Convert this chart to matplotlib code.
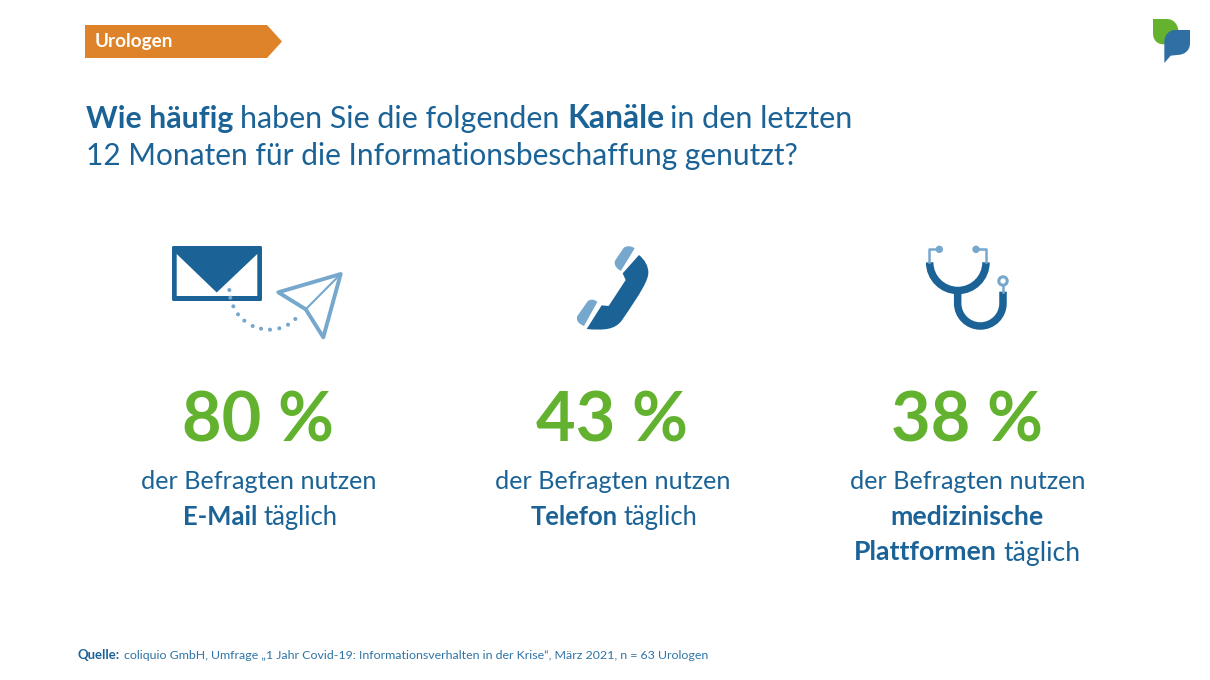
import matplotlib
matplotlib.use("Agg")
import matplotlib.pyplot as plt
from matplotlib.patches import Polygon, PathPatch, Circle, FancyBboxPatch
from matplotlib.path import Path

# ---- data -----
channels = ["E-Mail", "Telefon", "medizinische Plattformen"]
shares = [80, 43, 38]
tag_label = "Urologen"
source_bold = "Quelle:"
source_text = "coliquio GmbH, Umfrage „1 Jahr Covid-19: Informationsverhalten in der Krise“, März 2021, n = 63 Urologen"

BLUE = "#1b6396"
LIGHT = "#76a7cd"
GREEN = "#63b22f"
ORANGE = "#de832a"
FONT = "Lato"

fig = plt.figure(figsize=(12.1, 6.8), dpi=100, facecolor="white")
ax = fig.add_axes([0, 0, 1, 1])
ax.set_xlim(0, 1210)
ax.set_ylim(680, 0)
ax.axis("off")
renderer = fig.canvas.get_renderer()


def run_width(text, size, weight):
    t = ax.text(0, 0, text, fontsize=size, fontweight=weight, family=FONT)
    w = t.get_window_extent(renderer).width
    t.remove()
    return w


def runs(parts, y, x0=None, cx=None, width=None, size=20, color=BLUE):
    """Draw mixed-weight runs on one baseline; optionally fit to a pixel width."""
    if width is not None:
        total = sum(run_width(p, 100, w) for p, w in parts)
        size = 100 * width / total
    widths = [run_width(p, size, w) for p, w in parts]
    gap = run_width("n n", size, "normal") - run_width("nn", size, "normal")
    x = x0 if x0 is not None else cx - (sum(widths) + gap * (len(parts) - 1)) / 2
    for (p, w), wd in zip(parts, widths):
        ax.text(x, y, p, fontsize=size, fontweight=w, family=FONT, color=color,
                va="baseline", ha="left")
        x += wd + gap
    return size


def curve(verts, codes, **kw):
    ax.add_patch(PathPatch(Path(verts, codes), **kw))


M, L, C4, Z = Path.MOVETO, Path.LINETO, Path.CURVE4, Path.CLOSEPOLY

# ---- tag -----
ax.add_patch(Polygon([(85, 25), (267, 25), (282, 41.5), (267, 58), (85, 58)],
                     closed=True, fc=ORANGE, ec="none"))
runs([(tag_label, "bold")], 47.5, x0=95, width=78, color="white")

# ---- logo -----
def lg(x, y):
    return (x / 3 + 1130, y / 3 + 5)

curve([lg(69, 42), lg(110, 42), lg(132, 42), lg(145, 60), lg(145, 80),
       lg(145, 105), lg(125, 118), lg(100, 118), lg(82, 118), lg(69, 105), lg(69, 85),
       lg(69, 42), lg(69, 42)],
      [M, L, C4, C4, C4, C4, C4, C4, C4, C4, C4, L, Z], fc="#64b22e", ec="none")
curve([lg(180, 75), lg(180, 115), lg(180, 135), lg(165, 150), lg(140, 150),
       lg(122, 152), lg(103, 174), lg(103, 110),
       lg(103, 90), lg(118, 75), lg(135, 75), lg(180, 75), lg(180, 75)],
      [M, L, C4, C4, C4, L, L, L, C4, C4, C4, L, Z], fc="#2f6fa3", ec="none")

# ---- title -----
runs([("Wie häufig", "bold")], 128, x0=86, width=147)
runs([("haben Sie die folgenden", "normal")], 128, x0=240, width=320)
runs([("Kanäle", "bold")], 128, x0=567, width=97)
runs([("in den letzten", "normal")], 128, x0=670, width=182)
runs([("12 Monaten für die Informationsbeschaffung genutzt?", "normal")], 165, x0=86, width=710)

# ---- envelope icon -----
ax.add_patch(FancyBboxPatch((173, 247), 88, 53, boxstyle="round,pad=1,rounding_size=1.5",
                            fc=BLUE, ec="none"))
ax.add_patch(Polygon([(176.7, 254), (216.7, 292.5), (257.3, 254), (257.3, 296), (176.7, 296)],
                     closed=True, fc="white", ec="none"))
dots = [(238, 180), (241, 203), (250, 229), (264, 253), (283, 272), (308, 288),
        (333, 296), (360, 299), (388, 295), (414, 284), (436, 267)]
for a, b in dots:
    ax.add_patch(Circle((a / 3 + 150, b / 3 + 230), 2.0, fc=LIGHT, ec="none", zorder=3))
ax.add_patch(Polygon([(340.7, 274), (278.3, 292.3), (305.7, 309.3), (323.3, 337.3)],
                     closed=True, fc="none", ec=LIGHT, lw=2.8, joinstyle="round"))
ax.plot([305.7, 340.7], [309.3, 274], color=LIGHT, lw=1.5)

# ---- phone icon -----
def ph(x, y):
    return (x / 3 + 560, y / 3 + 230)

curve([ph(237, 75),
       ph(255, 90), ph(265, 108), ph(265, 128),
       ph(265, 150), ph(245, 185), ph(185, 272),
       ph(165, 298), ph(135, 302), ph(80, 297),
       ph(125, 226), ph(146, 228), ph(197, 150), ph(188, 130), ph(237, 75), ph(237, 75)],
      [M, C4, C4, C4, C4, C4, C4, C4, C4, C4, L, L, L, L, L, Z], fc=BLUE, ec="none")
curve([ph(224, 55), ph(215, 47), ph(198, 46), ph(190, 55), ph(165, 92), ph(160, 108), ph(175, 120),
       ph(183, 122), ph(224, 55), ph(224, 55)],
      [M, C4, C4, C4, L, C4, C4, C4, L, Z], fc=LIGHT, ec="none")
curve([ph(112, 216), ph(103, 207), ph(90, 207), ph(83, 214), ph(52, 258), ph(46, 275), ph(62, 284),
       ph(72, 288), ph(112, 216), ph(112, 216)],
      [M, C4, C4, C4, L, C4, C4, C4, L, Z], fc=LIGHT, ec="none")

# ---- stethoscope icon -----
def st(x, y):
    return (x / 3 + 910, y / 3 + 230)

k = 0.5523
r1 = 84.5
cx1, cy1 = 143.5, 97
curve([st(cx1 - r1, cy1), st(cx1 - r1, cy1 + k * r1), st(cx1 - k * r1, cy1 + r1), st(cx1, cy1 + r1),
       st(cx1 + k * r1, cy1 + r1), st(cx1 + r1, cy1 + k * r1), st(cx1 + r1, cy1)],
      [M, C4, C4, C4, C4, C4, C4], fc="none", ec=BLUE, lw=5.4, capstyle="butt")
r2 = 68
cx2, cy2 = 211, 220
curve([st(143, 180), st(143, cy2), st(143, cy2 + k * r2), st(cx2 - k * r2, cy2 + r2), st(cx2, cy2 + r2),
       st(cx2 + k * r2, cy2 + r2), st(cx2 + r2, cy2 + k * r2), st(cx2 + r2, cy2), st(cx2 + r2, 185)],
      [M, L, C4, C4, C4, C4, C4, C4, L], fc="none", ec=BLUE, lw=5.4, capstyle="butt")
ax.plot(*zip(st(58, 95), st(58, 58), st(88, 58)), color=LIGHT, lw=1.8)
ax.plot(*zip(st(228, 95), st(228, 58), st(198, 58)), color=LIGHT, lw=1.8)
ax.add_patch(Circle(st(88, 58), 3.7, fc=LIGHT, ec="none"))
ax.add_patch(Circle(st(198, 58), 3.7, fc=LIGHT, ec="none"))
ax.add_patch(Circle(st(279, 153), 4.2, fc="white", ec=LIGHT, lw=2.2))
ax.plot(*zip(st(279, 166), st(279, 185)), color=LIGHT, lw=1.8)

# ---- KPI columns -----
centers = [258, 612, 967]
lines = [
    [[("E-Mail", "bold"), ("täglich", "normal")]],
    [[("Telefon", "bold"), ("täglich", "normal")]],
    [[("medizinische", "bold")], [("Plattformen", "bold"), ("täglich", "normal")]],
]
line_widths = [[148], [161], [153, 220]]
for c, v, extra, ws in zip(centers, shares, lines, line_widths):
    runs([(f"{v} %", "bold")], 441, cx=c, width=152, color=GREEN)
    runs([("der Befragten nutzen", "normal")], 489, cx=c + 0.5, width=235)
    for i, (parts, w) in enumerate(zip(extra, ws)):
        runs(parts, 525 + i * 35.5, cx=c + 2 if i == 0 and len(extra) == 1 else c, width=w)

# ---- source -----
runs([(source_bold, "bold")], 659, x0=78, width=42)
runs([(source_text, "normal")], 659, x0=124, width=585, color="#2f74a6")

fig.savefig("out.png", dpi=100, facecolor="white")
